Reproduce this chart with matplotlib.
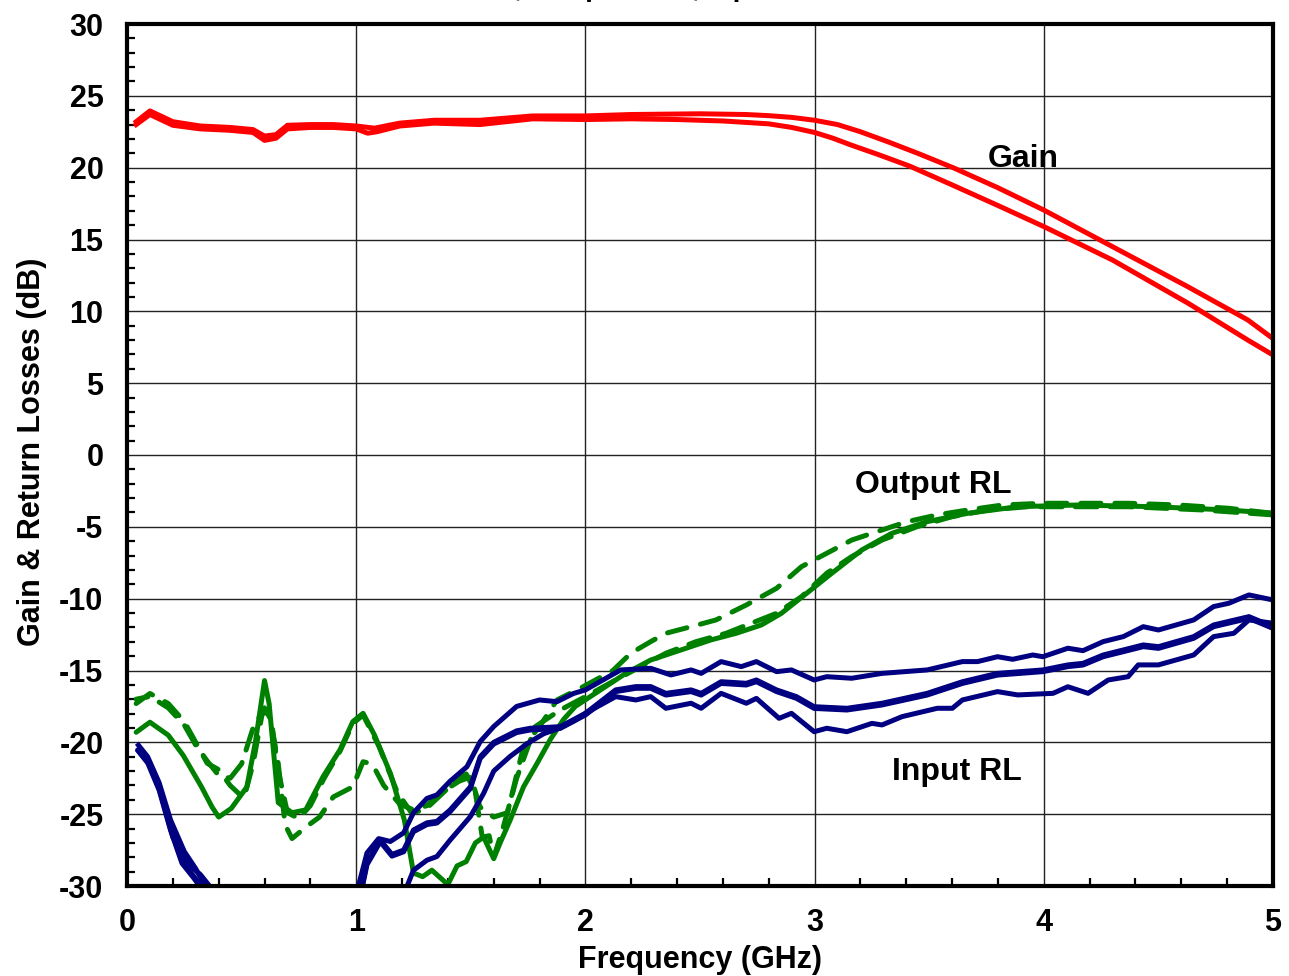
import numpy as np
import matplotlib
matplotlib.use("Agg")
import matplotlib.pyplot as plt
from matplotlib.ticker import MultipleLocator

# ---------------- data ----------------
gain_hi_f = [0.04, 0.10, 0.20, 0.32, 0.45, 0.55, 0.60, 0.65, 0.70, 0.80, 0.90, 1.00, 1.08, 1.19, 1.34, 1.54,
             1.77, 2.00, 2.20, 2.50, 2.70, 2.80, 2.90, 3.00, 3.10, 3.20, 3.32, 3.45, 3.61, 3.80, 4.00, 4.30,
             4.63, 4.89, 5.00]
gain_hi_db = [23.2, 23.95, 23.2, 22.9, 22.8, 22.65, 22.2, 22.3, 22.95, 23.0, 23.0, 22.9, 22.75, 23.1, 23.3, 23.3,
              23.6, 23.6, 23.7, 23.75, 23.7, 23.62, 23.5, 23.3, 23.0, 22.5, 21.8, 21.0, 19.96, 18.6, 17.05, 14.5,
              11.7, 9.4, 8.1]
gain_lo_f = [0.04, 0.10, 0.20, 0.32, 0.45, 0.55, 0.60, 0.65, 0.70, 0.80, 0.90, 1.00, 1.05, 1.09, 1.19, 1.34,
             1.54, 1.77, 2.00, 2.20, 2.40, 2.60, 2.80, 2.90, 3.00, 3.08, 3.155, 3.28, 3.416, 3.60, 3.809, 4.00,
             4.30, 4.63, 4.89, 5.00]
gain_lo_db = [23.0, 23.7, 22.95, 22.7, 22.6, 22.45, 21.9, 22.05, 22.7, 22.8, 22.8, 22.7, 22.4, 22.5, 22.9, 23.1,
              23.0, 23.4, 23.35, 23.4, 23.35, 23.25, 23.05, 22.8, 22.45, 22.05, 21.6, 20.9, 20.1, 18.8, 17.3, 15.9,
              13.57, 10.56, 8.0, 6.96]

# Input return loss (three traces); NaN = trace below the -30 dB floor
irl1_f = [0.05, 0.09, 0.14, 0.19, 0.25, 0.30, 0.36, 0.60,
          1.00, 1.047, 1.098, 1.149, 1.207, 1.25, 1.309, 1.352, 1.41, 1.483, 1.541, 1.60, 1.70, 1.80, 1.876, 1.948,
          2.0, 2.154, 2.285, 2.373, 2.461, 2.505, 2.592, 2.68, 2.746, 2.834, 2.899, 2.998, 3.053, 3.162, 3.294,
          3.491, 3.645, 3.711, 3.798, 3.864, 3.952, 3.996, 4.105, 4.171, 4.259, 4.347, 4.434, 4.5, 4.654, 4.741,
          4.807, 4.895, 5.0]
irl1_db = [-20.2, -21.0, -22.8, -25.4, -27.6, -28.8, -30.6, np.nan,
           -30.6, -27.7, -26.7, -26.9, -26.3, -24.9, -23.9, -23.66, -22.7, -21.7, -19.95, -18.9, -17.5, -17.05, -17.17, -16.6,
           -16.35, -14.96, -14.85, -15.31, -14.96, -15.2, -14.38, -14.73, -14.38, -15.08, -14.96, -15.66, -15.43, -15.54, -15.2,
           -14.96, -14.38, -14.38, -14.04, -14.22, -13.92, -14.04, -13.45, -13.62, -12.99, -12.64, -11.95, -12.18, -11.48, -10.55,
           -10.32, -9.74, -10.09]
irl2_f = [0.05, 0.09, 0.14, 0.19, 0.24, 0.29, 0.35, 0.60,
          1.018, 1.047, 1.105, 1.156, 1.207, 1.25, 1.309, 1.352, 1.41, 1.498, 1.541, 1.60, 1.70, 1.76, 1.89,
          2.0, 2.132, 2.22, 2.285, 2.351, 2.461, 2.505, 2.592, 2.702, 2.746, 2.834, 2.921, 2.998, 3.141, 3.294,
          3.491, 3.645, 3.798, 3.996, 4.105, 4.171, 4.259, 4.347, 4.434, 4.5, 4.654, 4.741, 4.895, 5.0]
irl2_db = [-20.5, -21.3, -23.2, -26.0, -28.3, -29.3, -30.6, np.nan,
           -30.6, -28.4, -26.8, -27.8, -27.5, -26.1, -25.6, -25.5, -24.7, -23.1, -21.0, -20.0, -19.2, -19.02, -18.91,
           -17.98, -16.35, -16.12, -16.12, -16.59, -16.35, -16.59, -15.78, -15.89, -15.66, -16.35, -16.82, -17.52, -17.63, -17.28,
           -16.59, -15.78, -15.2, -14.96, -14.61, -14.5, -13.92, -13.57, -13.22, -13.34, -12.64, -11.83, -11.25, -11.95]
irl3_f = [0.05, 0.10, 0.15, 0.20, 0.26, 0.32, 0.39, 0.70,
          1.207, 1.25, 1.309, 1.352, 1.41, 1.498, 1.556, 1.60, 1.67, 1.745, 1.818, 1.89, 1.95,
          2.0, 2.132, 2.22, 2.285, 2.351, 2.461, 2.505, 2.592, 2.702, 2.746, 2.845, 2.899, 2.998, 3.053, 3.141, 3.25,
          3.294, 3.382, 3.535, 3.601, 3.645, 3.798, 3.886, 4.04, 4.105, 4.193, 4.281, 4.368, 4.412, 4.5, 4.654, 4.741,
          4.829, 4.895, 5.0]
irl3_db = [-20.6, -21.6, -23.6, -26.6, -28.4, -29.2, -30.6, np.nan,
           -30.6, -28.9, -28.2, -27.95, -26.8, -25.17, -23.55, -22.0, -21.0, -20.1, -19.4, -19.0, -18.5,
           -17.98, -16.82, -17.05, -16.82, -17.63, -17.28, -17.63, -16.59, -17.28, -16.94, -18.33, -17.98, -19.26, -19.02, -19.26, -18.68,
           -18.79, -18.21, -17.63, -17.63, -17.05, -16.47, -16.7, -16.59, -16.13, -16.59, -15.66, -15.43, -14.61, -14.61, -13.92, -12.64,
           -12.41, -11.48, -11.71]

# Output return loss (three traces)
orl1_f = [0.04, 0.10, 0.18, 0.25, 0.30, 0.35, 0.40, 0.45, 0.51, 0.55, 0.59, 0.62, 0.66, 0.69, 0.72, 0.78, 0.84,
          0.90, 0.985, 1.03, 1.07, 1.12, 1.19, 1.25, 1.31, 1.35, 1.45, 1.50, 1.54, 1.60, 1.66, 1.73, 1.80, 1.876,
          1.977, 2.12, 2.198, 2.285, 2.351, 2.461, 2.57, 2.702, 2.834, 2.943, 3.053, 3.162, 3.294, 3.404, 3.535,
          3.667, 3.82, 3.996, 4.15, 4.37, 4.588, 4.807, 5.0]
orl1_db = [-17.3, -16.6, -17.3, -18.56, -20.0, -21.46, -21.9, -23.0, -23.9, -21.5, -18.0, -17.9, -21.5, -25.75, -26.7, -25.9, -25.2,
           -23.8, -23.1, -21.35, -21.5, -23.0, -24.3, -24.7, -24.4, -23.7, -22.7, -22.4, -24.5, -25.2, -24.9, -20.3, -18.9, -17.05,
           -16.24, -15.0, -13.8, -12.99, -12.41, -11.95, -11.48, -10.44, -9.28, -7.77, -6.84, -5.92, -5.22, -4.64, -4.17,
           -3.83, -3.48, -3.36, -3.36, -3.36, -3.48, -3.71, -4.06]
orl2_f = [0.04, 0.10, 0.18, 0.25, 0.30, 0.35, 0.40, 0.45, 0.50, 0.55, 0.60, 0.63, 0.66, 0.70, 0.75, 0.80, 0.86,
          0.93, 0.985, 1.03, 1.10, 1.18, 1.241, 1.30, 1.36, 1.44, 1.48, 1.52, 1.55, 1.58, 1.60, 1.64, 1.70, 1.781,
          1.89, 2.0, 2.132, 2.241, 2.351, 2.483, 2.614, 2.724, 2.834, 2.943, 3.053, 3.162, 3.294, 3.447, 3.6,
          3.755, 3.93, 4.15, 4.37, 4.698, 5.0]
orl2_db = [-17.0, -16.8, -17.6, -18.8, -20.2, -21.3, -22.3, -22.5, -21.5, -19.0, -17.6, -18.5, -22.0, -24.9, -25.3, -24.4, -22.5,
           -20.6, -18.7, -18.1, -20.3, -23.5, -24.9, -24.7, -23.8, -22.6, -22.2, -23.5, -26.6, -26.5, -28.0, -26.0, -22.5, -18.91,
           -17.75, -16.82, -15.66, -14.73, -13.8, -12.99, -12.41, -11.71, -11.02, -9.86, -8.23, -7.07, -5.92, -4.99, -4.29,
           -3.83, -3.6, -3.6, -3.6, -3.83, -4.17]
orl3_f = [0.04, 0.10, 0.18, 0.245, 0.325, 0.371, 0.40, 0.455, 0.523, 0.56, 0.60, 0.62, 0.66, 0.72, 0.78, 0.855,
          0.93, 0.985, 1.03, 1.08, 1.15, 1.21, 1.25, 1.29, 1.33, 1.40, 1.44, 1.48, 1.52, 1.556, 1.60, 1.628, 1.672,
          1.73, 1.788, 1.847, 1.905, 1.956, 2.066, 2.176, 2.285, 2.417, 2.548, 2.658, 2.768, 2.855, 2.965, 3.075,
          3.206, 3.337, 3.491, 3.667, 3.886, 4.15, 4.48, 4.807, 5.0]
orl3_db = [-19.3, -18.6, -19.5, -20.9, -23.1, -24.5, -25.2, -24.6, -23.1, -20.0, -15.7, -17.3, -24.2, -24.9, -24.7, -22.4,
           -20.5, -18.56, -17.98, -19.5, -22.2, -25.4, -29.1, -29.35, -28.9, -29.9, -28.6, -28.3, -27.0, -26.6, -28.1, -27.0, -25.4,
           -23.1, -21.5, -19.8, -18.4, -17.5, -16.35, -15.2, -14.27, -13.57, -12.87, -12.41, -11.83, -11.02, -9.63, -8.23,
           -6.61, -5.45, -4.64, -4.06, -3.6, -3.48, -3.6, -3.83, -4.06]

x_ticks = [0, 1, 2, 3, 4, 5]
y_ticks = list(range(-30, 31, 5))

# ---------------- drawing ----------------
plt.rcParams['font.family'] = ['Liberation Sans', 'DejaVu Sans']
plt.rcParams['font.weight'] = 'bold'

fig = plt.figure(figsize=(12.89, 9.76), dpi=100)
ax = fig.add_axes([127 / 1289, 90 / 976, 1146 / 1289, 862 / 976])

RED, BLUE, GREEN = '#FF0000', '#000080', '#008000'
LW = 3.6

ax.plot(orl1_f, orl1_db, color=GREEN, lw=LW, linestyle=(0, (4.0, 2.8)), dash_capstyle='round')
ax.plot(orl2_f, orl2_db, color=GREEN, lw=LW, linestyle=(2.0, (4.4, 2.6)), dash_capstyle='round')
ax.plot(orl3_f, orl3_db, color=GREEN, lw=LW, solid_capstyle='round', solid_joinstyle='round')

for f, d in [(irl1_f, irl1_db), (irl2_f, irl2_db), (irl3_f, irl3_db)]:
    ax.plot(f, d, color=BLUE, lw=LW, solid_joinstyle='round')
ax.plot(irl2_f, np.array(irl2_db) - 0.12, color=BLUE, lw=LW, solid_joinstyle='round')

ax.plot(gain_hi_f, gain_hi_db, color=RED, lw=LW, solid_joinstyle='round')
ax.plot(gain_lo_f, gain_lo_db, color=RED, lw=LW, solid_joinstyle='round')

ax.set_xlim(0, 5)
ax.set_ylim(-30, 30)
ax.set_xticks(x_ticks)
ax.set_yticks(y_ticks)
ax.set_xticklabels([str(v) for v in x_ticks])
ax.set_yticklabels([str(v) for v in y_ticks])
ax.xaxis.set_minor_locator(MultipleLocator(0.2))
ax.yaxis.set_minor_locator(MultipleLocator(1))
ax.grid(True, which='major', color='#222222', lw=1.0)
ax.set_axisbelow(True)

ax.tick_params(which='both', direction='in', top=False, right=False)
ax.tick_params(which='major', length=0, labelsize=22)
ax.tick_params(which='minor', length=6, width=1.6, color='black')
ax.tick_params(axis='y', which='major', pad=17)
ax.tick_params(axis='x', which='major', pad=16)
for lab in ax.get_xticklabels() + ax.get_yticklabels():
    lab.set_fontweight('bold')

for s in ax.spines.values():
    s.set_linewidth(3.0)
    s.set_color('black')

ax.set_xlabel('Frequency (GHz)', fontsize=22, fontweight='bold')
ax.set_ylabel('Gain & Return Losses (dB)', fontsize=22, fontweight='bold')
ax.xaxis.set_label_coords(0.5, -0.068)
ax.yaxis.set_label_coords(-0.0696, 0.504)

ax.text(3.757, 20.6, 'Gain', fontsize=23, fontweight='bold', ha='left', va='center')
ax.text(3.176, -2.09, 'Output RL', fontsize=23, fontweight='bold', ha='left', va='center')
ax.text(3.338, -22.06, 'Input RL', fontsize=23, fontweight='bold', ha='left', va='center')

# title sits almost entirely above the canvas, as in the reference
fig.text(0.515, 1.0 + 4 / 976, 'Vs = 5 V, Temp = 25 C, Input = -20 dBm',
         fontsize=20, fontweight='bold', ha='center', va='baseline')

fig.savefig('out.png', dpi=100)
